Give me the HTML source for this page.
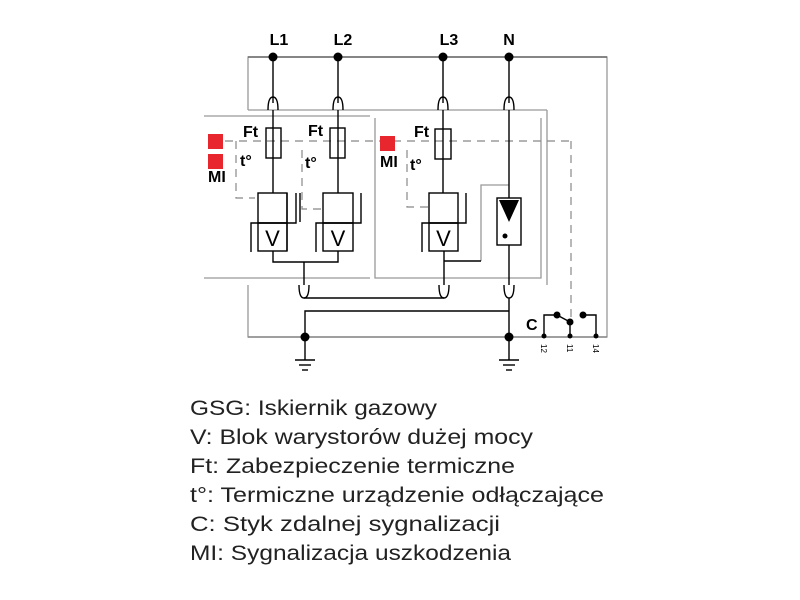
<!DOCTYPE html>
<html><head><style>html,body{margin:0;padding:0;background:#fff}svg{display:block}</style></head><body>
<svg width="800" height="600" viewBox="0 0 800 600" xmlns="http://www.w3.org/2000/svg" font-family="Liberation Sans, sans-serif">
<g fill="none" stroke="#999" stroke-width="1.3">
<polyline points="248,110 248,57 607,57 607,337 248,337 248,285"/>
<line x1="248" y1="110" x2="547" y2="110"/>
<line x1="547" y1="110" x2="547" y2="285"/>
<line x1="204" y1="116" x2="370" y2="116"/>
<line x1="204" y1="278" x2="370" y2="278"/>
<polyline points="375,118 375,278 541,278 541,118"/>
<polyline points="481,261 481,185 509,185"/>
</g>
<g fill="none" stroke="#888" stroke-width="1.2" stroke-dasharray="8,6">
<line x1="225" y1="141" x2="571" y2="141"/>
<line x1="571" y1="141" x2="571" y2="320"/>
<polyline points="236,141 236,198 255,198"/>
<polyline points="302,150 302,209 322,209"/>
<polyline points="407,150 407,207 430,207"/>
</g>
<g fill="none" stroke="#000" stroke-width="1.4">
<line x1="248" y1="57" x2="607" y2="57" stroke="#666"/>
<path d="M273,57 V103 M273,110 V193"/><path d="M268,110 Q268,97 273,97 Q278,97 278,110"/>
<path d="M338,57 V103 M338,110 V193"/><path d="M333,110 Q333,97 338,97 Q343,97 343,110"/>
<path d="M443,57 V103 M443,110 V193"/><path d="M438,110 Q438,97 443,97 Q448,97 448,110"/>
<path d="M509,57 V103 M509,110 V198"/><path d="M504,110 Q504,97 509,97 Q514,97 514,110"/>
<rect x="266" y="128" width="15" height="30"/>
<rect x="330" y="128" width="15" height="30"/>
<rect x="435" y="129" width="16" height="30"/>
<rect x="258" y="193" width="29" height="30"/><rect x="258" y="223" width="29" height="28"/>
<polyline points="251,252 251,223 296,223 296,193"/><line x1="300" y1="193" x2="300" y2="222"/>
<rect x="323" y="193" width="30" height="30"/><rect x="323" y="223" width="30" height="28"/>
<polyline points="316,252 316,223 361,223 361,193"/>
<rect x="429" y="193" width="29" height="30"/><rect x="429" y="223" width="29" height="28"/>
<polyline points="422,252 422,223 466,223 466,193"/>
<line x1="287" y1="193" x2="287" y2="251"/>
<polyline points="273,251 273,262 338,262 338,251"/>
<path d="M304,262 V285"/><path d="M299,285 Q299,298 304,298 Q309,298 309,285"/>
<path d="M444,251 V285"/><path d="M439,285 Q439,298 444,298 Q449,298 449,285"/>
<line x1="304" y1="298" x2="444" y2="298"/>
<polyline points="444,261 481,261"/>
<rect x="497" y="198" width="24" height="47"/>
<path d="M509,245 V285"/><path d="M504,285 Q504,298 509,298 Q514,298 514,285"/>
<line x1="509" y1="298" x2="509" y2="337"/>
<polyline points="305,337 305,311 509,311"/>
<line x1="248" y1="337" x2="607" y2="337" stroke="#888"/>
<line x1="305" y1="337" x2="305" y2="360"/><line x1="509" y1="337" x2="509" y2="360"/>
<line x1="295" y1="360" x2="315" y2="360"/><line x1="299" y1="365" x2="311" y2="365"/><line x1="302" y1="370" x2="308" y2="370"/>
<line x1="499" y1="360" x2="519" y2="360"/><line x1="503" y1="365" x2="515" y2="365"/><line x1="506" y1="370" x2="512" y2="370"/>
<polyline points="544,336 544,315 557,315"/>
<line x1="557" y1="315" x2="570" y2="322"/>
<line x1="570" y1="322" x2="570" y2="336"/>
<polyline points="583,315 596,315 596,336"/>
</g>
<path d="M499,200 H519 L509,222 Z" fill="#000"/>
<circle cx="505" cy="236" r="2.5" fill="#000"/>
<g fill="#000">
<circle cx="273" cy="57" r="4.5"/><circle cx="338" cy="57" r="4.5"/><circle cx="443" cy="57" r="4.5"/><circle cx="509" cy="57" r="4.5"/>
<circle cx="305" cy="337" r="4.5"/><circle cx="509" cy="337" r="4.5"/>
<circle cx="557" cy="315" r="3.5"/><circle cx="570" cy="322" r="3.5"/><circle cx="583" cy="315" r="3.5"/>
<circle cx="544" cy="336" r="2.5"/><circle cx="570" cy="336" r="2.5"/><circle cx="596" cy="336" r="2.5"/>
</g>
<g fill="#e8262d">
<rect x="208" y="134" width="15" height="15"/><rect x="208" y="154" width="15" height="15"/><rect x="380" y="136" width="15" height="15"/>
</g>
<g font-size="22" fill="#000" text-anchor="middle">
<text x="272.5" y="246">V</text><text x="338" y="246">V</text><text x="443.5" y="246">V</text>
</g>
<g font-weight="bold" font-size="16" fill="#000">
<text x="279" y="45" text-anchor="middle">L1</text>
<text x="343" y="45" text-anchor="middle">L2</text>
<text x="449" y="45" text-anchor="middle">L3</text>
<text x="509" y="45" text-anchor="middle">N</text>
<text x="243" y="137">Ft</text><text x="308" y="136">Ft</text><text x="414" y="137">Ft</text>
<text x="208" y="182">MI</text><text x="380" y="167">MI</text>
<text x="240" y="166">t°</text><text x="305" y="168">t°</text><text x="410" y="170">t°</text>
<text x="526" y="330">C</text>
</g>
<g font-size="8" fill="#000">
<text transform="translate(541,344) rotate(90)">12</text>
<text transform="translate(567,344) rotate(90)">11</text>
<text transform="translate(593,344) rotate(90)">14</text>
</g>
<g font-size="21" fill="#222">
<text x="190" y="415" textLength="247" lengthAdjust="spacingAndGlyphs">GSG: Iskiernik gazowy</text>
<text x="190" y="444" textLength="343" lengthAdjust="spacingAndGlyphs">V: Blok warystorów dużej mocy</text>
<text x="190" y="473" textLength="325" lengthAdjust="spacingAndGlyphs">Ft: Zabezpieczenie termiczne</text>
<text x="190" y="502" textLength="414" lengthAdjust="spacingAndGlyphs">t°: Termiczne urządzenie odłączające</text>
<text x="190" y="531" textLength="310" lengthAdjust="spacingAndGlyphs">C: Styk zdalnej sygnalizacji</text>
<text x="190" y="560" textLength="321" lengthAdjust="spacingAndGlyphs">MI: Sygnalizacja uszkodzenia</text>
</g>
</svg>
</body></html>
